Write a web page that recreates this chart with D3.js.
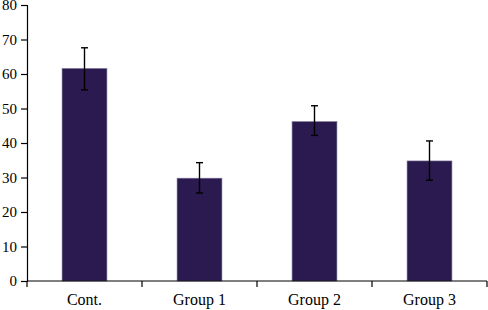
<!DOCTYPE html>
<html>
<head>
<meta charset="utf-8">
<script src="https://cdn.jsdelivr.net/npm/d3@7"></script>
<style>
  body { margin: 0; background: #fff; }
  text { font-family: "Liberation Serif", "DejaVu Serif", serif; font-size: 16px; fill: #000; }
</style>
</head>
<body>
<script>
// chart data
var groups = ["Cont.", "Group 1", "Group 2", "Group 3"];
var means = [61.6, 29.8, 46.2, 34.8];
var errLow = [55.4, 25.5, 42.2, 29.2];
var errHigh = [67.6, 34.3, 50.8, 40.6];
var yTicks = [0, 10, 20, 30, 40, 50, 60, 70, 80];

var svgWidth = 488;
var svgHeight = 310;

var margin = { top: 5, right: 1, bottom: 29, left: 27 };
var chartWidth = svgWidth - margin.left - margin.right;
var chartHeight = svgHeight - margin.top - margin.bottom;

var svg = d3.select("body")
    .append("svg")
    .attr("width", svgWidth)
    .attr("height", svgHeight);

var chartGroup = svg.append("g")
    .attr("transform", `translate(${margin.left}, ${margin.top})`);

var xScale = d3.scaleBand()
    .domain(groups)
    .range([0, chartWidth])
    .paddingInner(0.61)
    .paddingOuter(0.305);

var yScale = d3.scaleLinear()
    .domain([0, 80])
    .range([chartHeight, 0]);

// bars
chartGroup.selectAll("rect.bar")
    .data(groups)
    .enter()
    .append("rect")
    .attr("class", "bar")
    .attr("x", d => xScale(d))
    .attr("y", (d, i) => yScale(means[i]))
    .attr("width", xScale.bandwidth())
    .attr("height", (d, i) => chartHeight - yScale(means[i]))
    .attr("fill", "#2a1a4f")
    .attr("stroke", "#7d7496")
    .attr("stroke-width", 0.6);

// error bars
var errGroup = chartGroup.selectAll("g.err")
    .data(groups)
    .enter()
    .append("g")
    .attr("class", "err")
    .attr("transform", d => `translate(${xScale(d) + xScale.bandwidth() / 2}, 0)`);

errGroup.append("line")
    .attr("y1", (d, i) => yScale(errLow[i]))
    .attr("y2", (d, i) => yScale(errHigh[i]))
    .attr("stroke", "#000")
    .attr("stroke-width", 1.4);

errGroup.append("line")
    .attr("x1", -3.5).attr("x2", 3.5)
    .attr("y1", (d, i) => yScale(errHigh[i]))
    .attr("y2", (d, i) => yScale(errHigh[i]))
    .attr("stroke", "#000")
    .attr("stroke-width", 1.4);

errGroup.append("line")
    .attr("x1", -3.5).attr("x2", 3.5)
    .attr("y1", (d, i) => yScale(errLow[i]))
    .attr("y2", (d, i) => yScale(errLow[i]))
    .attr("stroke", "#000")
    .attr("stroke-width", 1.4);

// y axis
var leftAxis = d3.axisLeft(yScale)
    .tickValues(yTicks)
    .tickSize(6)
    .tickPadding(4);

var yAxis = chartGroup.append("g").call(leftAxis);
yAxis.select(".domain").attr("stroke-width", 1.2);
yAxis.selectAll(".tick line").attr("stroke-width", 1.2);
yAxis.selectAll("text").style("font-size", "15px").attr("font-family", null);

// x axis, ticks on category boundaries
var xAxisGroup = chartGroup.append("g")
    .attr("transform", `translate(0, ${chartHeight})`);

xAxisGroup.append("line")
    .attr("x1", 0).attr("x2", chartWidth)
    .attr("stroke", "#000")
    .attr("stroke-width", 1.2);

var step = xScale.step();
xAxisGroup.selectAll("line.bound")
    .data(d3.range(groups.length + 1))
    .enter()
    .append("line")
    .attr("class", "bound")
    .attr("x1", d => d * step).attr("x2", d => d * step)
    .attr("y1", 0).attr("y2", 6)
    .attr("stroke", "#000")
    .attr("stroke-width", 1.2);

xAxisGroup.selectAll("text")
    .data(groups)
    .enter()
    .append("text")
    .attr("x", d => xScale(d) + xScale.bandwidth() / 2)
    .attr("y", 24)
    .attr("text-anchor", "middle")
    .text(d => d);
</script>
</body>
</html>
